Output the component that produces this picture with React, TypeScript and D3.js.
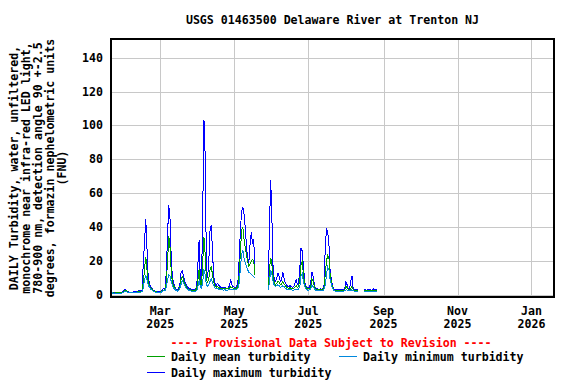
import React from "react";
import * as d3 from "d3";

const TITLE = "USGS 01463500 Delaware River at Trenton NJ";
const Y_LABEL_LINES = [
  "DAILY Turbidity, water, unfiltered,",
  "monochrome near infra-red LED light,",
  "780-900 nm, detection angle 90 +-2.5",
  "degrees, formazin nephelometric units",
  "(FNU)",
];
const PROVISIONAL = "---- Provisional Data Subject to Revision ----";

// first daily value: 2025-01-20, one value per day
const START_DATE = "2025-01-20";

const maxValues: (number | null)[] = [
  1.6, 1.8, 1.2, 1.5, 1.6, 1.6, 1.7, 1.6, 1.7, 1.8,
  2.5, 3.4, 2.8, 2.0, 1.8, 1.7, 1.6, 1.7, 1.8, 1.9,
  2.0, 2.2, 2.4, 2.5, 2.5, 3.0, 19, 31, 45, 28,
  11, 7, 5, 4, 3, 2.6, 2.3, 2.1, 2.0, 2.0,
  2.2, 2.5, 3.4, 3.8, 4.0, 14, 36, 53, 45, 22,
  10, 7, 4.5, 3.5, 3.0, 4.0, 5.0, 13, 14.2, 12,
  8, 6.5, 5, 4.2, 3.8, 3.5, 3.3, 3.0, 3.2, 3.5,
  5, 18, 32.5, 9, 7, 50, 103, 82, 16, 10,
  20, 38, 41, 26, 11, 7, 5.5, 7, 6, 5,
  4.5, 4.5, 4.2, 4.5, 4.2, 4, 4.2, 5.5, 9.3, 6,
  5, 4.5, 4.5, 5, 8, 21, 38, 49, 52, 48,
  40, 29, 22, 19, 30, 37, 30, 33, 14, null,
  null, null, null, null, null, null, null, null, null, 4,
  40, 68, 45, 15, 9, 8, 10, 13, 11, 8,
  9, 13.5, 10, 7, 6, 5, 5, 5.5, 4.8, 4.5,
  5, 7, 9, 6, 7, 16, 27.5, 26, 17, 8,
  5, 4.2, 4, 4.5, 7, 13.8, 11, 6, 4, 3.6,
  3.5, 3.4, 3.6, 3.5, 3.7, 6, 28, 39.5, 37, 30,
  14, 9, 5.5, 3.5, 3.2, 3.0, 3.0, 3.1, 3.0, 3.0,
  3.1, 3.0, 3.5, 7.9, 6, 3.5, 3.2, 8, 11.2, 4,
  3.0, 3.1, 3.2, 3.0, null, null, null, null, 3.5, 3.0,
  2.8, 3.2, 3.5, 3.0, 2.8, 3.3, 3.6, 3.1, 3.0, 3.2,
];

const meanValues: (number | null)[] = [
  1.3, 1.4, 1.0, 1.2, 1.3, 1.3, 1.3, 1.3, 1.4, 1.4,
  2.0, 2.8, 2.4, 1.7, 1.5, 1.4, 1.4, 1.4, 1.5, 1.5,
  1.6, 1.8, 2.0, 2.1, 2.0, 2.3, 8, 15, 22.6, 15,
  8, 5.5, 4, 3.3, 2.6, 2.2, 1.9, 1.8, 1.7, 1.7,
  1.8, 2.0, 2.7, 3.0, 3.2, 8, 20, 35, 28, 14,
  7.5, 5.5, 3.8, 3.0, 2.6, 3.3, 4.0, 9, 11, 9.5,
  6.5, 5.5, 4.2, 3.5, 3.2, 2.9, 2.8, 2.6, 2.7, 2.8,
  3.5, 9, 15.5, 6.5, 5, 20, 34, 24, 10, 7,
  10, 15, 17, 12, 8, 5.5, 4.5, 5, 4.5, 4,
  3.8, 3.7, 3.6, 3.7, 3.6, 3.5, 3.6, 4, 5, 4.3,
  4, 3.8, 3.8, 4, 5.5, 12, 25, 38, 40, 33,
  28, 24, 20, 17, 18.5, 20, 21, 20, 12, null,
  null, null, null, null, null, null, null, null, null, 3.5,
  15, 22, 18, 11, 7, 6, 7, 8, 7.5, 6,
  6.5, 8, 6.5, 5.5, 4.8, 4.2, 4, 4.2, 3.8, 3.6,
  3.8, 4.5, 5.5, 4.5, 5, 9, 18, 19.5, 12, 6.5,
  4.5, 3.8, 3.5, 3.8, 5, 9.5, 8, 5, 3.5, 3.1,
  3.0, 2.9, 3.0, 3.0, 3.1, 4.5, 12, 20, 23.5, 22,
  12, 7.5, 4.5, 3, 2.7, 2.6, 2.6, 2.6, 2.6, 2.5,
  2.6, 2.6, 3.0, 5, 4.5, 3, 2.8, 4, 5, 3,
  2.6, 2.6, 2.7, 2.6, null, null, null, null, 2.7, 2.5,
  2.4, 2.6, 2.7, 2.5, 2.4, 2.6, 2.7, 2.5, 2.5, 2.6,
];

const minValues: (number | null)[] = [
  1.1, 1.2, 0.8, 1.0, 1.1, 1.1, 1.1, 1.1, 1.1, 1.2,
  1.6, 2.3, 2.0, 1.4, 1.2, 1.2, 1.2, 1.2, 1.2, 1.3,
  1.3, 1.4, 1.6, 1.7, 1.7, 2.0, 4, 9, 12, 9,
  6, 4.5, 3.5, 3, 2.3, 2, 1.6, 1.5, 1.4, 1.4,
  1.5, 1.7, 2.2, 2.5, 2.7, 5, 9, 12, 11, 8,
  5.5, 4.2, 3.2, 2.5, 2.2, 2.8, 3.3, 6, 8.5, 7.5,
  5.5, 4.5, 3.5, 3, 2.6, 2.4, 2.3, 2.2, 2.2, 2.3,
  2.5, 5, 8.5, 5, 4, 8, 15, 12, 6, 5,
  6, 8, 9.5, 7.5, 5.5, 4.2, 3.5, 3.8, 3.5, 3.2,
  3, 3, 2.9, 3, 2.9, 2.8, 2.9, 3.1, 3.5, 3.2,
  3.2, 3, 3, 3.3, 4, 7, 15, 24, 26.5, 22,
  19, 17, 15, 13, 13, 12, 11.5, 10.8, 10, null,
  null, null, null, null, null, null, null, null, null, 3,
  8, 14.5, 12, 8, 5.5, 5, 5.5, 6, 5.5, 4.5,
  4.8, 5.5, 5, 4, 3.5, 3.2, 3, 3.2, 3, 2.8,
  2.8, 3.2, 3.5, 3.2, 3.5, 5, 11, 12.5, 8, 5,
  3.5, 3, 2.8, 3, 3.5, 5.5, 5, 3.8, 2.8, 2.6,
  2.5, 2.5, 2.5, 2.5, 2.6, 3.5, 6, 12, 16.5, 15,
  9, 6, 3.8, 2.5, 2.3, 2.2, 2.2, 2.2, 2.2, 2.2,
  2.2, 2.2, 2.5, 3, 3, 2.5, 2.4, 2.8, 3, 2.5,
  2.2, 2.2, 2.2, 2.2, null, null, null, null, 2.2, 2.1,
  2.0, 2.1, 2.2, 2.0, 2.0, 2.1, 2.2, 2.0, 2.0, 2.1,
];

const yTicks = [0, 20, 40, 60, 80, 100, 120, 140];
const xTickDates = ["2025-03-01", "2025-05-01", "2025-07-01", "2025-09-01", "2025-11-01", "2026-01-01"];
const xTickMonths = ["Mar", "May", "Jul", "Sep", "Nov", "Jan"];
const xTickYears = ["2025", "2025", "2025", "2025", "2025", "2026"];

const legendLabels = ["Daily mean turbidity", "Daily minimum turbidity", "Daily maximum turbidity"];

const COLORS = { mean: "#00a000", min: "#0088dd", max: "#0000ff" };
const FONT = "'DejaVu Sans Mono', 'Liberation Mono', monospace";

export default function App() {
  const left = 111, right = 554, top = 39, bottom = 297;
  const x = d3
    .scaleUtc()
    .domain([new Date(Date.UTC(2025, 0, 19, 8, 38)), new Date(Date.UTC(2026, 0, 19, 13, 12))])
    .range([left, right]);
  const y = d3.scaleLinear().domain([-1.2, 151]).range([bottom, top]);

  const start = new Date(START_DATE + "T00:00:00Z");
  const dates = maxValues.map((_, i) => d3.utcDay.offset(start, i));

  const mkLine = (vals: (number | null)[]) =>
    d3
      .line<number>()
      .defined((i) => vals[i] !== null)
      .x((i) => x(dates[i]))
      .y((i) => y(vals[i] as number))(vals.map((_, i) => i)) || "";

  const fontStyle = { fontFamily: FONT, fontWeight: 700, fontSize: 11.6 } as const;
  const plotMidY = (top + bottom) / 2;

  return (
    <svg width={576} height={384} style={{ position: "absolute", left: 0, top: 0, background: "#fff" }}>
      <rect x={0} y={0} width={576} height={384} fill="#fff" />
      <text x={(left + right) / 2} y={24} textAnchor="middle" {...fontStyle}>
        {TITLE}
      </text>
      {/* grid */}
      <g stroke="#c8c8c8" strokeWidth={1} shapeRendering="crispEdges">
        {yTicks.map((t) => (
          <line key={"gy" + t} x1={left} x2={right} y1={Math.round(y(t)) + 0.5} y2={Math.round(y(t)) + 0.5} />
        ))}
        {xTickDates.map((d) => {
          const xx = Math.round(x(new Date(d + "T00:00:00Z"))) + 0.5;
          return <line key={"gx" + d} x1={xx} x2={xx} y1={top} y2={bottom} />;
        })}
      </g>
      {/* data */}
      <g fill="none" strokeWidth={1} shapeRendering="crispEdges">
        <path d={mkLine(maxValues)} stroke={COLORS.max} />
        <path d={mkLine(meanValues)} stroke={COLORS.mean} />
        <path d={mkLine(minValues)} stroke={COLORS.min} />
      </g>
      {/* frame */}
      <rect x={left} y={top} width={right - left} height={bottom - top} fill="none" stroke="#000" strokeWidth={2} shapeRendering="crispEdges" />
      {/* y ticks */}
      {yTicks.map((t) => (
        <text key={"yt" + t} x={103} y={y(t) + 4} textAnchor="end" {...fontStyle}>
          {t}
        </text>
      ))}
      {/* x ticks */}
      {xTickDates.map((d, i) => {
        const xx = x(new Date(d + "T00:00:00Z"));
        return (
          <g key={"xt" + d}>
            <text x={xx} y={315} textAnchor="middle" {...fontStyle}>
              {xTickMonths[i]}
            </text>
            <text x={xx} y={328} textAnchor="middle" {...fontStyle}>
              {xTickYears[i]}
            </text>
          </g>
        );
      })}
      {/* y label */}
      {Y_LABEL_LINES.map((l, i) => {
        const cx = 14 + i * 12;
        return (
          <text
            key={"yl" + i}
            transform={`translate(${cx + 4},${plotMidY}) rotate(-90)`}
            textAnchor="middle"
            {...fontStyle}
          >
            {l}
          </text>
        );
      })}
      {/* legend */}
      <text x={331} y={347} textAnchor="middle" {...fontStyle} fill="#ff0000">
        {PROVISIONAL}
      </text>
      <line x1={147} x2={165} y1={356.5} y2={356.5} stroke={COLORS.mean} strokeWidth={1} shapeRendering="crispEdges" />
      <text x={171} y={361} {...fontStyle}>{legendLabels[0]}</text>
      <line x1={339} x2={357} y1={356.5} y2={356.5} stroke={COLORS.min} strokeWidth={1} shapeRendering="crispEdges" />
      <text x={363} y={361} {...fontStyle}>{legendLabels[1]}</text>
      <line x1={147} x2={165} y1={372.5} y2={372.5} stroke={COLORS.max} strokeWidth={1} shapeRendering="crispEdges" />
      <text x={171} y={377} {...fontStyle}>{legendLabels[2]}</text>
    </svg>
  );
}
